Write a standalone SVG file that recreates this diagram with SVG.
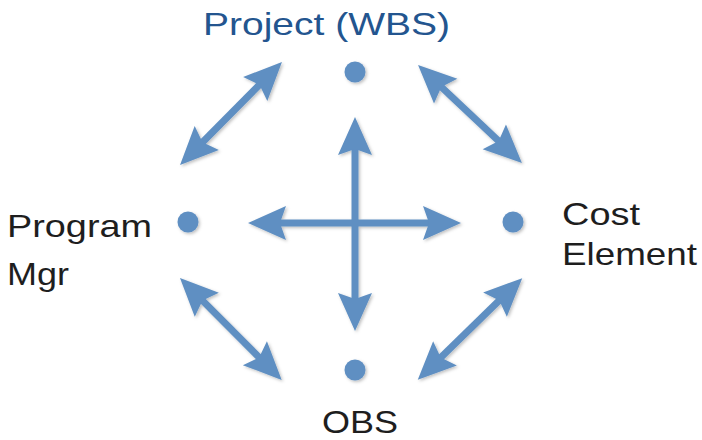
<svg xmlns="http://www.w3.org/2000/svg" width="702" height="440" viewBox="0 0 702 440">
  <style>
    .lbl { font-family: "Liberation Sans", Arial, sans-serif; font-size: 32px; fill: #1e1e1e; }
    .title { fill: #23558f; }
    .dot { fill: #5f8fc2; filter: url(#soft); }
    .conn { stroke: #5f8fc2; stroke-width: 7; fill: none; marker-start: url(#head); marker-end: url(#head); }
  </style>
  <defs>
    <filter id="soft" x="-50%" y="-50%" width="200%" height="200%">
      <feDropShadow dx="1.5" dy="1.5" stdDeviation="1.5" flood-color="#000" flood-opacity="0.25"/>
    </filter>
    <marker id="head" viewBox="-30 -20 54 40" refX="0" refY="0" markerWidth="54" markerHeight="40" markerUnits="userSpaceOnUse" orient="auto-start-reverse">
      <path d="M20,0 L-18,-17 L-12,0 L-18,17 Z" fill="#5f8fc2"/>
    </marker>
  </defs>
  <rect width="702" height="440" fill="#ffffff"/>

  <g id="connectors" filter="url(#soft)">
    <line class="conn" x1="355" y1="137" x2="355" y2="311"/>
    <line class="conn" x1="268" y1="223" x2="441" y2="223"/>
    <line class="conn" x1="267.9" y1="76.2" x2="194.1" y2="150.8"/>
    <line class="conn" x1="432.6" y1="78.7" x2="507.4" y2="149.3"/>
    <line class="conn" x1="194.1" y1="292.1" x2="267.6" y2="365.9"/>
    <line class="conn" x1="507.9" y1="292.1" x2="432.1" y2="365.9"/>
  </g>

  <g id="node-project">
    <circle class="dot" cx="355" cy="72" r="10.5"/>
    <text class="lbl title" x="203" y="35" textLength="247" lengthAdjust="spacingAndGlyphs">Project (WBS)</text>
  </g>
  <g id="node-program-mgr">
    <circle class="dot" cx="188" cy="222" r="10.5"/>
    <text class="lbl" x="7" y="237" textLength="145" lengthAdjust="spacingAndGlyphs">Program</text>
    <text class="lbl" x="7" y="285" textLength="62" lengthAdjust="spacingAndGlyphs">Mgr</text>
  </g>
  <g id="node-cost-element">
    <circle class="dot" cx="513" cy="222" r="10.5"/>
    <text class="lbl" x="562" y="225" textLength="78" lengthAdjust="spacingAndGlyphs">Cost</text>
    <text class="lbl" x="562" y="265" textLength="135" lengthAdjust="spacingAndGlyphs">Element</text>
  </g>
  <g id="node-obs">
    <circle class="dot" cx="355" cy="370" r="10.5"/>
    <text class="lbl" x="322" y="433" textLength="76" lengthAdjust="spacingAndGlyphs">OBS</text>
  </g>
</svg>
